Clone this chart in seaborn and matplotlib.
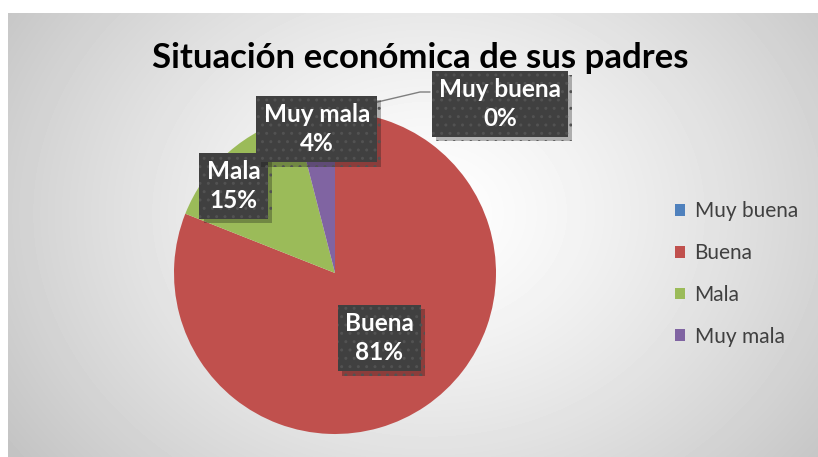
import numpy as np
import matplotlib.pyplot as plt
import matplotlib.patheffects as pe
from matplotlib.patches import Patch
import seaborn as sns

# --- Data ---
categorias = ["Muy buena", "Buena", "Mala", "Muy mala"]
porcentajes = [0, 81, 15, 4]
colores = ["#4F81BD", "#C0504D", "#9BBB59", "#8064A2"]
titulo = "Situación económica de sus padres"

sns.set_theme(style="white")
plt.rcParams["font.family"] = ["Lato", "DejaVu Sans"]
plt.rcParams["hatch.color"] = "#525252"
plt.rcParams["hatch.linewidth"] = 1.0

W, H = 818, 457
fig = plt.figure(figsize=(W / 100, H / 100), dpi=100)
fig.patch.set_facecolor("white")

# --- Background: radial gradient chart area ---
bg = fig.add_axes([8 / W, 0, 1 - 8 / W, 1 - 13 / H])
bg.set_axis_off()
yy, xx = np.mgrid[0:444, 0:810]
d = np.sqrt(((xx - 420) / 520) ** 2 + ((yy - 200) / 420) ** 2)
g = 1.0 - 0.24 * np.clip(d, 0, 1) ** 1.3
bg.imshow(g, cmap="gray", vmin=0, vmax=1, aspect="auto", interpolation="bilinear")

# --- Pie (data coords = pixels) ---
ax = fig.add_axes([0, 0, 1, 1])
ax.patch.set_alpha(0)

cx, cy, R = 335, H - 273, 161
wedges, _ = ax.pie(porcentajes, colors=colores, startangle=90, counterclock=False,
                   center=(cx, cy), radius=R, frame=True,
                   wedgeprops=dict(linewidth=0))
ax.set_xlim(0, W)
ax.set_ylim(0, H)
ax.set_axis_off()

# --- Data labels (dark boxes) ---
# (distance as fraction of radius, angle shift in degrees)
ajustes = [None, (0.49, 0), (0.83, 8), (0.9, 0)]
box = dict(boxstyle="square,pad=0.3", fc="#404040", ec="#525252", lw=0, hatch="..")
for w, cat, val, adj in zip(wedges, categorias, porcentajes, ajustes):
    if adj is None:
        # leader line from the top of the pie
        ax.plot([cx, 420, 430], [cy + R, H - 92, H - 92], color="#7f7f7f", lw=1, zorder=3)
        x, y = 500, H - 104
    else:
        r, da = adj
        ang = np.deg2rad((w.theta1 + w.theta2) / 2 + da)
        x, y = cx + r * R * np.cos(ang), cy + r * R * np.sin(ang)
    t = ax.text(x, y, f"{cat}\n{val}%", ha="center", va="center", color="white",
                fontsize=17.5, fontweight="bold", linespacing=1.3, bbox=box, zorder=5)
    t.get_bbox_patch().set_path_effects([pe.withSimplePatchShadow(offset=(3, -3), alpha=0.3), pe.Normal()])

# --- Title ---
fig.text(420 / W, 1 - 58 / H, titulo, ha="center", va="center", fontsize=25,
         fontweight="bold", color="black")

# --- Legend ---
handles = [Patch(facecolor=c, edgecolor="none") for c in colores]
leg = fig.legend(handles, categorias, loc="center left", bbox_to_anchor=(656 / W, 1 - 274 / H),
                 frameon=False, fontsize=15, labelspacing=1.05, handlelength=0.5,
                 handleheight=0.5, handletextpad=0.45, labelcolor="#404040")

fig.savefig("out.png", dpi=100)
